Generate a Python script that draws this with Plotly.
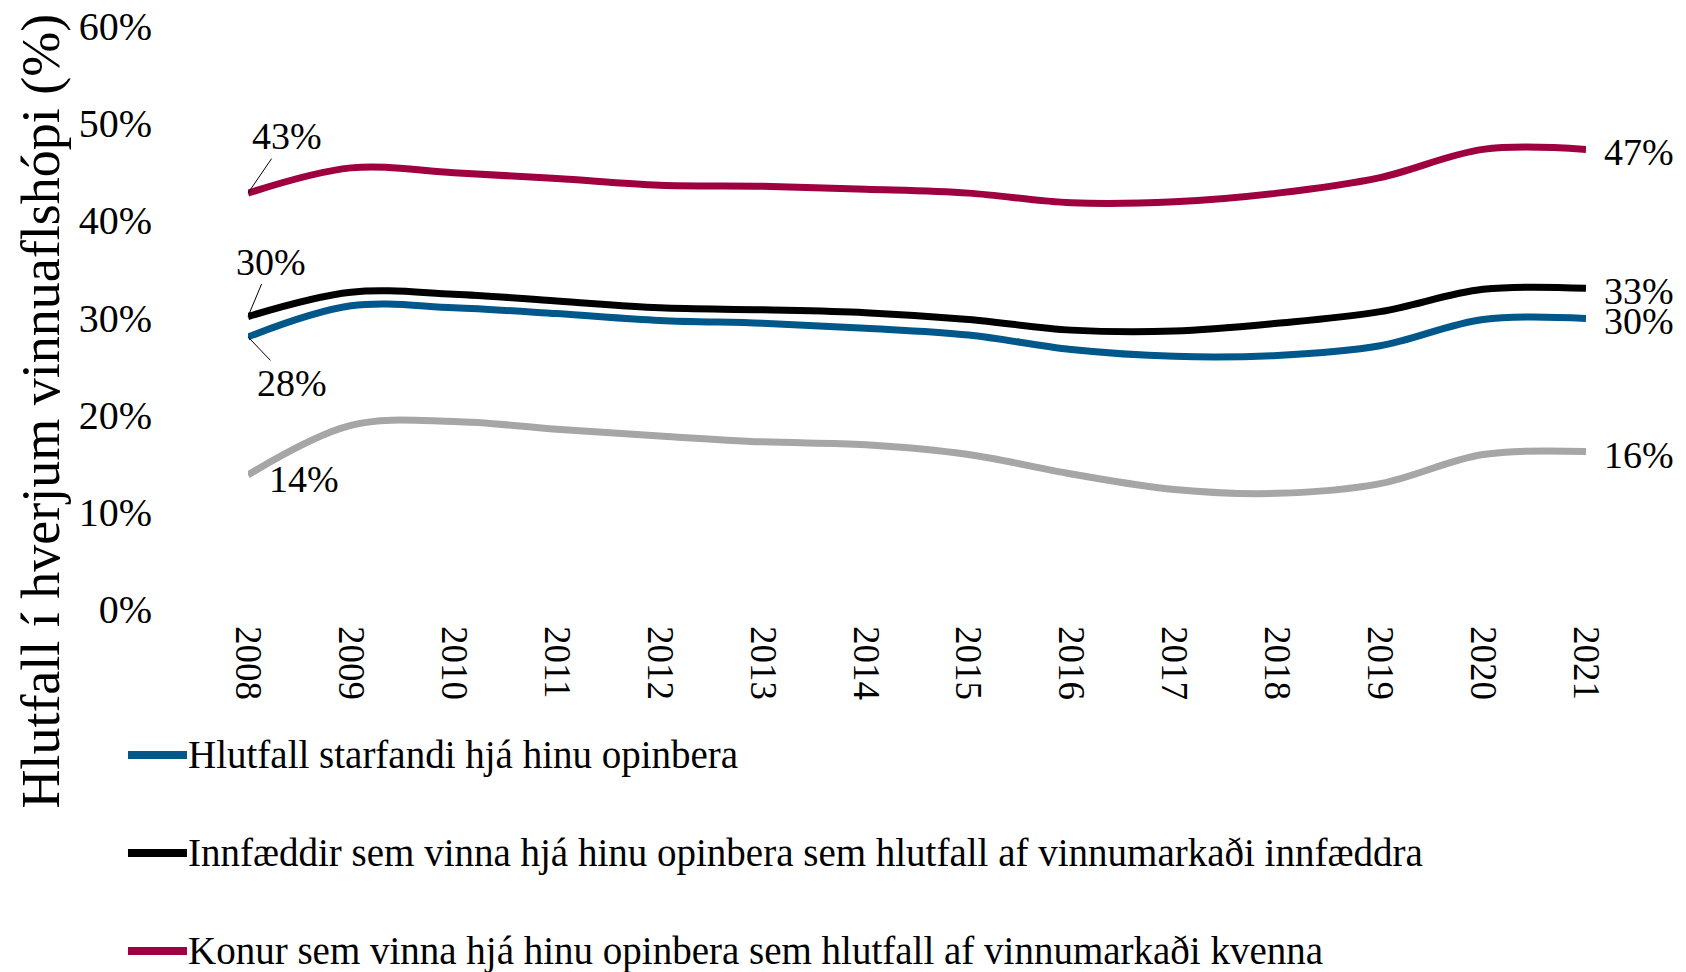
import plotly.graph_objects as go

years = list(range(2008, 2022))

opinbera = [28.0, 31.2, 31.0, 30.4, 29.7, 29.4, 28.9, 28.2, 26.7, 26.0, 26.1, 27.1, 29.8, 29.9]
innfaeddir = [30.1, 32.6, 32.4, 31.7, 31.0, 30.8, 30.5, 29.8, 28.7, 28.6, 29.4, 30.6, 32.9, 33.0]
konur = [42.8, 45.4, 44.9, 44.3, 43.6, 43.5, 43.2, 42.8, 41.8, 41.9, 42.8, 44.4, 47.3, 47.3]
innflytjendur = [13.8, 18.9, 19.3, 18.5, 17.8, 17.2, 16.9, 15.9, 13.9, 12.3, 11.9, 12.9, 15.9, 16.2]

names = [
    "Hlutfall starfandi hjá hinu opinbera",
    "Innfæddir sem vinna hjá hinu opinbera sem hlutfall af vinnumarkaði innfæddra",
    "Konur sem vinna hjá hinu opinbera sem hlutfall af vinnumarkaði kvenna",
]
colors = ["#00588A", "#000000", "#9E0040", "#A6A6A6"]

FONT = "Liberation Serif"

fig = go.Figure()
series = [opinbera, innfaeddir, konur]
for i, (name, vals) in enumerate(zip(names, series)):
    fig.add_trace(go.Scatter(
        x=years, y=vals, name=name, mode="lines", showlegend=False,
        line=dict(color=colors[i], width=7, shape="spline", smoothing=1),
    ))
fig.add_trace(go.Scatter(
    x=years, y=innflytjendur, mode="lines", showlegend=False,
    line=dict(color=colors[3], width=7, shape="spline", smoothing=1),
))

# legend drawn by hand below the chart (plotly's legend would push the margins)
legend_y = [-0.2504, -0.4185, -0.5866]
for i, name in enumerate(names):
    fig.add_shape(type="line", xref="paper", yref="paper",
                  x0=-0.0897, x1=-0.0456, y0=legend_y[i], y1=legend_y[i],
                  line=dict(color=colors[i], width=8))
    fig.add_annotation(xref="paper", yref="paper", x=-0.0465, y=legend_y[i],
                       text=name, showarrow=False, xanchor="left", yanchor="middle",
                       font=dict(family=FONT, size=39, color="black"))

# start labels
start_labels = [
    (konur[0], 39, -57),
    (innfaeddir[0], 23, -55),
    (opinbera[0], 44, 46),
]
for val, ax, ay in start_labels:
    fig.add_annotation(x=years[0], y=val, text=f"{round(val)}%", showarrow=True,
                       ax=ax, ay=ay, arrowhead=0, arrowwidth=1, arrowcolor="black",
                       font=dict(family=FONT, size=38, color="black"))
fig.add_annotation(x=years[0], y=innflytjendur[0], text=f"{round(innflytjendur[0])}%",
                   showarrow=False, xshift=56, yshift=-4,
                   font=dict(family=FONT, size=38, color="black"))

# end labels
for vals in [konur, innfaeddir, opinbera, innflytjendur]:
    fig.add_annotation(x=years[-1], y=vals[-1], text=f"{round(vals[-1])}%",
                       showarrow=False, xanchor="left", xshift=16, yshift=-3,
                       font=dict(family=FONT, size=38, color="black"))

fig.add_annotation(xref="paper", yref="paper", x=-0.155, y=0.3396,
                   xanchor="center", yanchor="middle",
                   text="Hlutfall í hverjum vinnuaflshópi (%)", textangle=-90,
                   showarrow=False, font=dict(family=FONT, size=54, color="black"))

fig.update_layout(
    width=1670, height=964,
    paper_bgcolor="white", plot_bgcolor="white",
    margin=dict(l=240, r=92, t=18, b=363),
    font=dict(family=FONT, size=36, color="black"),
    showlegend=False,
    xaxis=dict(
        range=[2008, 2021], tickvals=years, ticktext=[str(y) for y in years],
        tickangle=90, showgrid=False, showline=False, zeroline=False,
        ticklabelstandoff=16, tickfont=dict(size=37), automargin=False,
    ),
    yaxis=dict(
        range=[0, 60], tickvals=[0, 10, 20, 30, 40, 50, 60],
        ticktext=["0%", "10%", "20%", "30%", "40%", "50%", "60%"],
        showgrid=False, showline=False, zeroline=False,
        ticklabelstandoff=95, tickfont=dict(size=40),
        ticklabeloverflow="allow", automargin=False,
    ),
)

fig.write_html("out.html")
